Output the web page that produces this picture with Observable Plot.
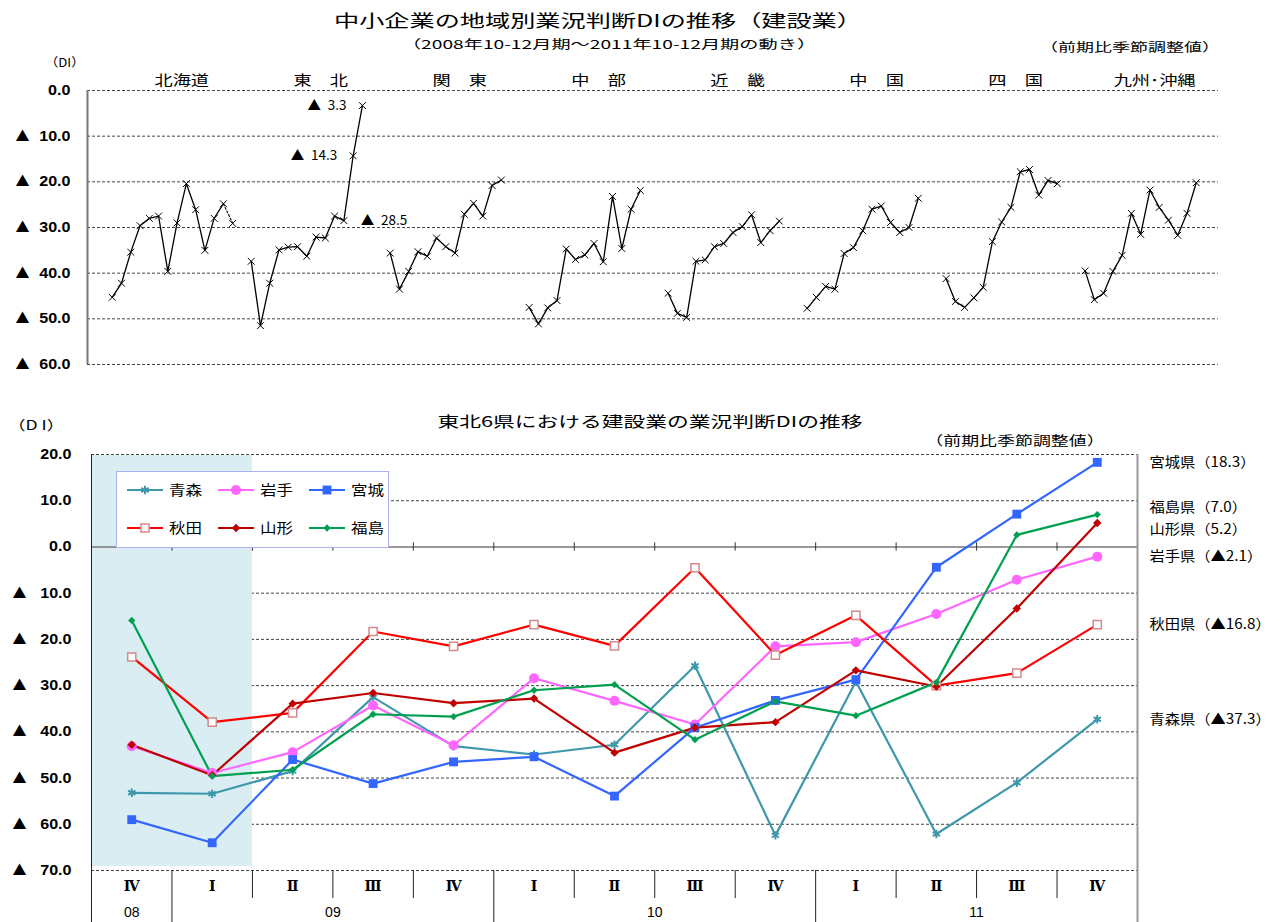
<!DOCTYPE html>
<html lang="ja"><head><meta charset="utf-8">
<script src="https://cdn.jsdelivr.net/npm/d3@7"></script>
<script src="https://cdn.jsdelivr.net/npm/@observablehq/plot@0.6"></script>
<style>
html,body{margin:0;padding:0;background:#fff;}
#page{position:relative;width:1286px;height:922px;overflow:hidden;font-family:"Noto Sans CJK JP","Liberation Sans",sans-serif;color:#000;}
.abs{position:absolute;white-space:nowrap;line-height:1;}
</style></head>
<body><div id="page"></div>
<script>
// ---------------- data: top chart (regional DI, 2008Q4 .. 2011Q4) ----------------
const regionNames = ["北海道", "東　北", "関　東", "中　部", "近　畿", "中　国", "四　国", "九州･沖縄"];
const hokkaido = [-45.3, -42.2, -35.4, -29.6, -28.0, -27.5, -39.6, -29.0, -20.4, -26.1, -35.0, -28.0, -24.8, -29.1];
const tohoku   = [-37.4, -51.5, -42.2, -34.9, -34.3, -34.2, -36.3, -32.1, -32.3, -27.5, -28.5, -14.3, -3.3];
const kanto    = [-35.6, -43.5, -39.6, -35.3, -36.3, -32.3, -34.2, -35.6, -27.1, -24.7, -27.5, -20.8, -19.6];
const chubu    = [-47.5, -51.1, -47.6, -46.0, -34.7, -37.0, -36.0, -33.5, -37.5, -23.2, -34.6, -26.0, -21.9];
const kinki    = [-44.4, -48.8, -49.7, -37.4, -37.1, -34.2, -33.5, -31.1, -29.8, -27.2, -33.3, -30.7, -28.6];
const chugoku  = [-47.7, -45.3, -42.9, -43.5, -35.7, -34.4, -30.7, -26.0, -25.3, -28.9, -31.1, -30.0, -23.6];
const shikoku  = [-41.2, -46.2, -47.5, -45.4, -43.1, -33.1, -28.8, -25.6, -17.8, -17.3, -22.9, -19.7, -20.4];
const kyushu   = [-39.5, -45.8, -44.4, -39.6, -36.1, -26.9, -31.5, -21.8, -25.6, -28.4, -31.7, -26.9, -20.2];
const topTicks = [0, -10, -20, -30, -40, -50, -60];
const solidCount = 13;          // points beyond this are joined with a dotted line
const tohokuNotesLeft = [11, 12];  // annotated points (label to the left)
const tohokuNotesRight = [10];     // annotated point (label to the right)

// ---------------- data: bottom chart (Tohoku 6 prefectures) ----------------
const quarterLabels = ["Ⅳ", "Ⅰ", "Ⅱ", "Ⅲ", "Ⅳ", "Ⅰ", "Ⅱ", "Ⅲ", "Ⅳ", "Ⅰ", "Ⅱ", "Ⅲ", "Ⅳ"];
const quarterYears  = ["08", "09", "09", "09", "09", "10", "10", "10", "10", "11", "11", "11", "11"];
const prefNames = ["青森", "岩手", "宮城", "秋田", "山形", "福島"];
const aomori    = [-53.2, -53.4, -48.5, -32.5, -43.1, -44.9, -42.8, -25.7, -62.4, -29.1, -62.1, -51.0, -37.3];
const iwate     = [-43.1, -48.9, -44.4, -34.3, -42.9, -28.4, -33.3, -38.4, -21.5, -20.6, -14.5, -7.1, -2.1];
const miyagi    = [-59.0, -64.0, -46.0, -51.2, -46.5, -45.4, -53.9, -39.1, -33.2, -28.7, -4.4, 7.1, 18.3];
const akita     = [-23.8, -37.9, -35.9, -18.3, -21.5, -16.8, -21.4, -4.5, -23.4, -14.8, -30.0, -27.3, -16.8];
const yamagata  = [-42.8, -49.4, -33.9, -31.6, -33.8, -32.8, -44.5, -39.1, -37.9, -26.7, -30.2, -13.3, 5.2];
const fukushima = [-15.9, -49.6, -48.2, -36.2, -36.7, -31.0, -29.8, -41.7, -33.4, -36.5, -29.3, 2.6, 7.0];
const bottomTicks = [20, 10, 0, -10, -20, -30, -40, -50, -60, -70];
const shadedQuarters = [0, 2];   // 2008Q4–2009Q1 highlighted

// ---------------- helpers ----------------
const fmtNum = v => Math.abs(v).toFixed(1);
const fmtTri = v => v < 0 ? "▲" : "";
const fmtVal = v => v < 0 ? "▲" + (-v).toFixed(1) : v.toFixed(1);
const fmtNote = v => v < 0 ? "▲\u2002" + (-v).toFixed(1) : v.toFixed(1);
const cjk = /[\u3000-\u9fff\uff00-\uffef]/;
const numeric = /^[0-9]+\.[0-9]$/;
function stretchTexts(root, k, re) {
  root.querySelectorAll("text").forEach(t => {
    if (!re.test(t.textContent)) return;
    const L = t.getComputedTextLength();
    if (L > 0) {
      t.setAttribute("textLength", (L * k).toFixed(1));
      t.setAttribute("lengthAdjust", "spacingAndGlyphs");
    }
  });
}
const page = document.getElementById("page");
function addText(txt, css) {
  const d = document.createElement("div");
  d.className = "abs";
  d.textContent = txt;
  Object.assign(d.style, css);
  page.appendChild(d);
  return d;
}
const svgFont = '"Liberation Sans", "Noto Sans CJK JP", sans-serif';
const jpFont = '"Noto Sans CJK JP", sans-serif';

// ---------------- top chart ----------------
const regionSeries = [hokkaido, tohoku, kanto, chubu, kinki, chugoku, shikoku, kyushu];
const slotsPerRegion = 15;
const topRows = [];
regionSeries.forEach((vals, g) => vals.forEach((v, i) =>
  topRows.push({region: regionNames[g], g, i, x: g * slotsPerRegion + i, v})));
const solidRows = topRows.filter(d => d.i < solidCount);
const dottedRows = topRows.filter(d => d.i >= solidCount - 1 && regionSeries[d.g].length > solidCount);
const xMinTop = -2.67, xMaxTop = 119.4;

const topPlot = Plot.plot({
  width: 1286, height: 380,
  marginTop: 90, marginBottom: 16, marginLeft: 87, marginRight: 68,
  style: {fontFamily: svgFont, background: "transparent", overflow: "visible", color: "#000"},
  x: {domain: [xMinTop, xMaxTop], axis: null, label: null},
  y: {domain: [-60, 0], label: null},
  marks: [
    Plot.gridY(topTicks, {stroke: "#444", strokeOpacity: 1, strokeDasharray: "3,2", strokeWidth: 1}),
    Plot.ruleX([xMinTop], {stroke: "#777", strokeWidth: 2}),
    Plot.axisY(topTicks, {tickSize: 0, tickPadding: 17, tickFormat: fmtNum, fontSize: 14, fontWeight: "bold", label: null}),
    Plot.axisY(topTicks, {tickSize: 0, tickPadding: 58, tickFormat: fmtTri, fontSize: 14, fontFamily: jpFont, label: null}),
    Plot.line(solidRows, {x: "x", y: "v", z: "region", stroke: "#000", strokeWidth: 1.3}),
    Plot.line(dottedRows, {x: "x", y: "v", z: "region", stroke: "#000", strokeWidth: 1.1, strokeDasharray: "2,2"}),
    Plot.dot(topRows, {x: "x", y: "v", symbol: "times", r: 3.2, stroke: "#000", strokeWidth: 1}),
    Plot.text(regionNames, {x: (d, i) => i * slotsPerRegion + slotsPerRegion / 2, frameAnchor: "top", dy: -15,
      text: d => d, fontSize: 14, fontFamily: jpFont}),
    Plot.text(topRows.filter(d => d.g === 1 && tohokuNotesLeft.includes(d.i)),
      {x: "x", y: "v", text: d => fmtNote(d.v), textAnchor: "end", dx: -16, fontSize: 13.5, fontFamily: jpFont}),
    Plot.text(topRows.filter(d => d.g === 1 && tohokuNotesRight.includes(d.i)),
      {x: "x", y: "v", text: d => fmtNote(d.v), textAnchor: "start", dx: 17, fontSize: 13.5, fontFamily: jpFont})
  ]
});
topPlot.style.position = "absolute";
topPlot.style.left = "0px";
topPlot.style.top = "0px";
page.appendChild(topPlot);
stretchTexts(topPlot, 1.3, cjk);
stretchTexts(topPlot, 1.15, numeric);

// ---------------- bottom chart ----------------
const prefValues = [aomori, iwate, miyagi, akita, yamagata, fukushima];
const prefStyle = [
  {stroke: "#3f97ab", symbol: "asterisk", r: 4, fill: "none", mstroke: "#3f97ab", sw: 2},
  {stroke: "#ff66ff", symbol: "circle", r: 5, fill: "#ff66ff", mstroke: "none", sw: 0},
  {stroke: "#3366ff", symbol: "square", r: 5, fill: "#3366ff", mstroke: "none", sw: 0},
  {stroke: "#ff0000", symbol: "square", r: 4.6, fill: "#ffffff", mstroke: "#d48a8a", sw: 1.5},
  {stroke: "#c00000", symbol: "diamond2", r: 3.8, fill: "#c00000", mstroke: "none", sw: 0},
  {stroke: "#00a050", symbol: "diamond2", r: 3.3, fill: "#00a050", mstroke: "none", sw: 0}
];
const nQ = quarterLabels.length;
const prefRows = prefNames.map((p, k) => prefValues[k].map((v, i) => ({pref: p, i, x: i + 0.5, v})));

// right-hand labels: last value, nudged apart so they do not overlap
const minGap = 4.8;
const lastVals = prefNames.map((p, k) => ({pref: p, v: prefValues[k][nQ - 1]}));
const sortedLabels = lastVals.map(d => ({...d, y: d.v})).sort((a, b) => b.v - a.v);
for (let it = 0; it < 60; it++) {
  for (let j = 0; j < sortedLabels.length - 1; j++) {
    const a = sortedLabels[j], b = sortedLabels[j + 1];
    const gap = a.y - b.y;
    if (gap < minGap) { const d = (minGap - gap) / 2; a.y += d; b.y -= d; }
  }
}

const boundaries = d3.range(0, nQ + 1);
const yearStarts = boundaries.filter(b => b === 0 || b === nQ || (b < nQ && quarterYears[b] !== quarterYears[b - 1]));
const quarterBounds = boundaries.filter(b => !yearStarts.includes(b));
const yearGroups = d3.groups(quarterLabels.map((q, i) => ({yr: quarterYears[i], x: i + 0.5})), d => d.yr)
  .map(([yr, arr]) => ({yr, x: d3.mean(arr, d => d.x)}));

const lineMarks = [];
prefNames.forEach((p, k) => {
  const s = prefStyle[k];
  lineMarks.push(Plot.line(prefRows[k], {x: "x", y: "v", stroke: s.stroke, strokeWidth: 2.2}));
});
prefNames.forEach((p, k) => {
  const s = prefStyle[k];
  lineMarks.push(Plot.dot(prefRows[k], {x: "x", y: "v", symbol: s.symbol, r: s.r, fill: s.fill,
    stroke: s.mstroke, strokeWidth: s.sw}));
});

const bottomPlot = Plot.plot({
  width: 1286, height: 482,
  marginTop: 14, marginBottom: 52, marginLeft: 91, marginRight: 149,
  style: {fontFamily: svgFont, background: "transparent", overflow: "visible", color: "#000"},
  x: {domain: [0, nQ], label: null},
  y: {domain: [-70, 20], label: null},
  marks: [
    Plot.gridY(bottomTicks.filter(t => t !== 0), {stroke: "#444", strokeOpacity: 1, strokeDasharray: "3,2", strokeWidth: 1}),
    Plot.rect([shadedQuarters], {x1: d => d[0], x2: d => d[1], y1: 20, y2: -70, insetTop: 1, insetBottom: 4, fill: "#daedf3"}),
    Plot.ruleY([0], {stroke: "#777", strokeWidth: 1.6}),
    Plot.ruleX(d3.range(1, nQ), {y1: -0.9, y2: 0.9, stroke: "#333", strokeWidth: 1}),
    Plot.ruleX([0], {stroke: "#222", strokeWidth: 1}),
    Plot.ruleX([nQ], {stroke: "#9a9a9a", strokeWidth: 2}),
    Plot.axisY(bottomTicks, {tickSize: 0, tickPadding: 20, tickFormat: fmtNum, fontSize: 14, fontWeight: "bold", label: null}),
    Plot.axisY(bottomTicks, {tickSize: 0, tickPadding: 65, tickFormat: fmtTri, fontSize: 14, fontFamily: jpFont, label: null}),
    Plot.axisX(quarterBounds, {tickSize: 28, tickFormat: () => "", stroke: "#222", label: null}),
    Plot.axisX(yearStarts.filter(b => b !== nQ), {tickSize: 52, tickFormat: () => "", stroke: "#222", label: null}),
    Plot.axisX([nQ], {tickSize: 52, tickFormat: () => "", stroke: "#9a9a9a", strokeWidth: 2, label: null}),
    Plot.text(quarterLabels, {x: (d, i) => i + 0.5, frameAnchor: "bottom", dy: 20, text: d => d,
      fontSize: 14, fontWeight: "bold", fontFamily: '"DejaVu Serif", "Liberation Serif", serif'}),
    Plot.text(yearGroups, {x: "x", frameAnchor: "bottom", dy: 46, text: "yr", fontSize: 14}),
    ...lineMarks,
    Plot.text(sortedLabels, {x: () => nQ, y: "y", dx: 12, textAnchor: "start",
      text: d => `${d.pref}県（${fmtVal(d.v)}）`, fontSize: 14, fontFamily: jpFont})
  ]
});
bottomPlot.style.position = "absolute";
bottomPlot.style.left = "0px";
bottomPlot.style.top = "440px";
page.appendChild(bottomPlot);
stretchTexts(bottomPlot, 1.09, cjk);
stretchTexts(bottomPlot, 1.15, numeric);

// ---------------- legend ----------------
const legW = 273, legH = 77;
const legDiv = document.createElement("div");
legDiv.className = "abs";
Object.assign(legDiv.style, {left: "116px", top: "471px", width: legW + "px", height: legH + "px",
  border: "1px solid #aab0f0", background: "#fff", boxSizing: "border-box"});
const leg = d3.create("svg").attr("width", legW - 2).attr("height", legH - 2)
  .style("font-family", jpFont).style("overflow", "visible");
const symMap = {asterisk: d3.symbolAsterisk, circle: d3.symbolCircle, square: d3.symbolSquare, diamond2: d3.symbolDiamond2};
prefNames.forEach((p, k) => {
  const s = prefStyle[k];
  const col = k % 3, row = Math.floor(k / 3);
  const x0 = 10 + col * 91, y0 = 18 + row * 38;
  const g = leg.append("g").attr("transform", `translate(${x0},${y0})`);
  g.append("line").attr("x1", 0).attr("x2", 36).attr("y1", 0).attr("y2", 0).attr("stroke", s.stroke).attr("stroke-width", 2);
  g.append("path").attr("transform", "translate(18,0)")
    .attr("d", d3.symbol(symMap[s.symbol], Math.PI * s.r * s.r)())
    .attr("fill", s.fill).attr("stroke", s.mstroke).attr("stroke-width", s.sw);
  g.append("text").attr("x", 42).attr("y", 0).attr("dy", "0.36em").attr("font-size", 14).text(p);
});
legDiv.appendChild(leg.node());
page.appendChild(legDiv);
stretchTexts(legDiv, 1.18, cjk);

// ---------------- titles and notes ----------------
addText("中小企業の地域別業況判断DIの推移（建設業）", {left: (598 - 400) + "px", width: "800px", textAlign: "center",
  top: "11px", fontSize: "17px", transform: "scaleX(1.48)", transformOrigin: "center"});
addText("（2008年10-12月期～2011年10-12月期の動き）", {left: (609 - 400) + "px", width: "800px", textAlign: "center",
  top: "38px", fontSize: "12px", transform: "scaleX(1.6)", transformOrigin: "center"});
addText("（前期比季節調整値）", {left: (1220 - 300) + "px", width: "300px", textAlign: "right",
  top: "41px", fontSize: "12px", transform: "scaleX(1.5)", transformOrigin: "right center"});
addText("（DI）", {left: "45px", top: "56px", fontSize: "12px", transform: "scaleX(1.1)", transformOrigin: "left center"});
addText("東北6県における建設業の業況判断DIの推移", {left: (650 - 400) + "px", width: "800px", textAlign: "center",
  top: "413px", fontSize: "15px", transform: "scaleX(1.45)", transformOrigin: "center"});
addText("（D I）", {left: "8px", top: "418px", fontSize: "13px", transform: "scaleX(1.35)", transformOrigin: "left center"});
addText("（前期比季節調整値）", {left: (1015 - 300) + "px", width: "600px", textAlign: "center",
  top: "433px", fontSize: "13px", transform: "scaleX(1.38)", transformOrigin: "center"});
</script>
</body></html>
